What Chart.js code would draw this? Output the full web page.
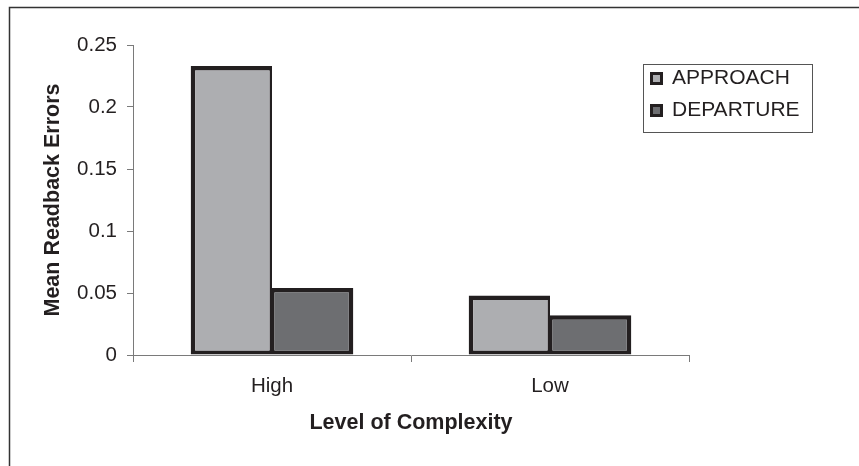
<!DOCTYPE html>
<html>
<head>
<meta charset="utf-8">
<script src="https://cdn.jsdelivr.net/npm/chart.js@4.4.1/dist/chart.umd.min.js"></script>
<style>
  html, body { margin: 0; padding: 0; background: #ffffff; }
  #wrap { width: 859px; height: 466px; }
</style>
</head>
<body>
<div id="wrap"><canvas id="c" width="859" height="466"></canvas></div>
<script>
const categories = ['High', 'Low'];
const seriesNames = ['APPROACH', 'DEPARTURE'];
const approach = [0.233, 0.048];
const departure = [0.054, 0.032];
const yTickValues = [0, 0.05, 0.1, 0.15, 0.2, 0.25];
const yTickLabels = ['0', '0.05', '0.1', '0.15', '0.2', '0.25'];
const xTitle = 'Level of Complexity';
const yTitle = 'Mean Readback Errors';

const FONT = "'Liberation Sans', Arial, Helvetica, sans-serif";
const INK = '#231f20';
const AXIS = '#7a7a7a';

const framePlugin = {
  id: 'framePlugin',
  beforeDraw(chart) {
    const ctx = chart.ctx;
    ctx.save();
    ctx.strokeStyle = '#333333';
    ctx.lineWidth = 1.5;
    ctx.beginPath();
    ctx.moveTo(9.5, 470);
    ctx.lineTo(9.5, 7.5);
    ctx.lineTo(870, 7.5);
    ctx.stroke();
    ctx.restore();
  },
  afterLayout(chart) {
    const lg = chart.legend;
    if (!lg) return;
    lg.left = 640.5; lg.top = 57;
    lg.right = 830; lg.bottom = 150;
    lg.width = lg.right - lg.left; lg.height = lg.bottom - lg.top;
  },
  afterDraw(chart) {
    const ctx = chart.ctx;
    ctx.save();
    ctx.strokeStyle = '#555555';
    ctx.lineWidth = 1;
    ctx.strokeRect(643.5, 64.5, 169, 68);
    ctx.restore();
  }
};

new Chart(document.getElementById('c'), {
  type: 'bar',
  data: {
    labels: categories,
    datasets: [
      {
        label: seriesNames[0],
        data: approach,
        backgroundColor: '#adaeb1',
        borderColor: INK,
        borderWidth: { top: 4.5, left: 4.5, right: 2.5, bottom: 4 },
        borderSkipped: false,
        categoryPercentage: 0.585,
        barPercentage: 1.0
      },
      {
        label: seriesNames[1],
        data: departure,
        backgroundColor: '#6d6e71',
        borderColor: INK,
        borderWidth: { top: 4.5, left: 2.5, right: 4.5, bottom: 4 },
        borderSkipped: false,
        categoryPercentage: 0.585,
        barPercentage: 1.0
      }
    ]
  },
  options: {
    responsive: false,
    animation: false,
    devicePixelRatio: 1,
    layout: { padding: { left: 0, top: 45, right: 170, bottom: 0 } },
    plugins: {
      tooltip: { enabled: false },
      legend: {
        display: true,
        position: 'chartArea',
        align: 'start',
        labels: {
          boxWidth: 10,
          boxHeight: 10,
          padding: 11,
          color: INK,
          font: { family: FONT, size: 21 },
          generateLabels(chart) {
            const items = Chart.defaults.plugins.legend.labels.generateLabels(chart);
            items.forEach(it => { it.lineWidth = 3; it.strokeStyle = INK; });
            return items;
          }
        }
      }
    },
    scales: {
      x: {
        type: 'category',
        grid: { display: true, drawOnChartArea: false, tickLength: 7, color: AXIS, offset: true },
        border: { display: true, color: AXIS, width: 1 },
        ticks: { color: INK, font: { family: FONT, size: 20.5 }, padding: 11.7, maxRotation: 0, autoSkip: false },
        title: {
          display: true, text: xTitle, color: INK,
          font: { family: FONT, size: 21.5, weight: 'bold' },
          padding: { top: 0, bottom: 30 }
        },
        afterFit(scale) { scale.height = 111; }
      },
      y: {
        min: 0, max: 0.25,
        grid: { display: true, drawOnChartArea: false, tickLength: 6, color: AXIS },
        border: { display: true, color: AXIS, width: 1 },
        afterBuildTicks(scale) { scale.ticks = yTickValues.map(v => ({ value: v })); },
        ticks: {
          color: INK, font: { family: FONT, size: 20.5 }, padding: 10,
          callback(value, index) { return yTickLabels[index]; }
        },
        title: {
          display: true, text: yTitle, color: INK,
          font: { family: FONT, size: 21.5, weight: 'bold' },
          padding: { top: 40, bottom: 0 }
        },
        afterFit(scale) { scale.width = 133; }
      }
    }
  },
  plugins: [framePlugin]
});
</script>
</body>
</html>
